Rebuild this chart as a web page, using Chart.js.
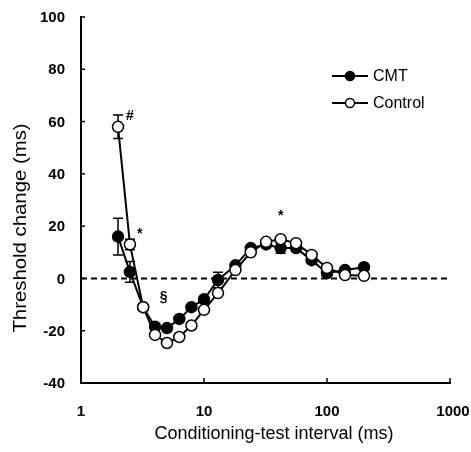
<!DOCTYPE html>
<html>
<head>
<meta charset="utf-8">
<script src="https://cdn.jsdelivr.net/npm/chart.js@4/dist/chart.umd.min.js"></script>
<style>
  html, body { margin: 0; padding: 0; background: #fff; }
  #wrap { width: 471px; height: 452px; }
</style>
</head>
<body>
<div id="wrap"><canvas id="recoveryChart" width="471" height="452"></canvas></div>
<script>
// conditioning-test intervals (ms)
const intervals = [2, 2.5, 3.2, 4, 5, 6.3, 7.9, 10, 13, 18, 24, 32, 42, 56, 75, 100, 140, 200];
const cmtValues = [16, 2.5, -11, -18.5, -19, -15.5, -11, -8, -0.6, 5, 11.6, 13, 11.6, 11.6, 7, 2, 3.2, 4.3];
const cmtErrors = [7, 4, 0, 0, 0, 0, 0, 0, 3, 0, 0, 0, 2, 0, 0, 0, 0, 0];
const controlValues = [58, 13, -11, -21.6, -24.7, -22.4, -18, -12, -5.6, 3.2, 10, 14, 15, 13.5, 9, 4, 1.3, 1];
const controlErrors = [4.5, 2, 0, 0, 0, 0, 0, 0, 0, 0, 0, 0, 0, 0, 0, 0, 0, 0];
const xTicks = [1, 10, 100, 1000];
const yTicks = [-40, -20, 0, 20, 40, 60, 80, 100];
// significance marks: [x, y, symbol]
const marks = [[2.5, 62, '#'], [3.0, 17, '*'], [42, 24, '*'], [4.7, -7, '§']];

const FONT = '"Liberation Sans", Arial, sans-serif';

function toPoints(vals) {
  return intervals.map((x, i) => ({ x: x, y: vals[i] }));
}

const extras = {
  id: 'extras',
  beforeDatasetsDraw(chart) {
    const ctx = chart.ctx;
    const xs = chart.scales.x, ys = chart.scales.y;
    const area = chart.chartArea;
    ctx.save();
    // dashed zero line
    ctx.strokeStyle = '#000';
    ctx.lineWidth = 2;
    ctx.setLineDash([6, 4]);
    ctx.beginPath();
    ctx.moveTo(area.left, ys.getPixelForValue(0));
    ctx.lineTo(area.right, ys.getPixelForValue(0));
    ctx.stroke();
    ctx.setLineDash([]);
    // error bars
    ctx.lineWidth = 1.5;
    [[cmtValues, cmtErrors], [controlValues, controlErrors]].forEach(([vals, errs]) => {
      intervals.forEach((x, i) => {
        if (!errs[i]) return;
        const px = xs.getPixelForValue(x);
        const top = ys.getPixelForValue(vals[i] + errs[i]);
        const bot = ys.getPixelForValue(vals[i] - errs[i]);
        ctx.beginPath();
        ctx.moveTo(px, top); ctx.lineTo(px, bot);
        ctx.moveTo(px - 5, top); ctx.lineTo(px + 5, top);
        ctx.moveTo(px - 5, bot); ctx.lineTo(px + 5, bot);
        ctx.stroke();
      });
    });
    ctx.restore();
  },
  afterDraw(chart) {
    const ctx = chart.ctx;
    const xs = chart.scales.x, ys = chart.scales.y;
    const area = chart.chartArea;
    ctx.save();
    ctx.strokeStyle = '#000';
    ctx.fillStyle = '#000';
    ctx.lineWidth = 1.5;
    // inward tick marks + tick labels
    ctx.font = 'bold 15px ' + FONT;
    ctx.textBaseline = 'middle';
    ctx.textAlign = 'right';
    yTicks.forEach(v => {
      const py = ys.getPixelForValue(v);
      ctx.beginPath(); ctx.moveTo(area.left, py); ctx.lineTo(area.left + 4, py); ctx.stroke();
      ctx.fillText(String(v), 65, py + 1);
    });
    ctx.textAlign = 'center';
    xTicks.forEach(v => {
      const px = xs.getPixelForValue(v);
      ctx.beginPath(); ctx.moveTo(px, area.bottom); ctx.lineTo(px, area.bottom - 5); ctx.stroke();
      ctx.fillText(String(v), px + (v === 1000 ? 3 : 0), 412);
    });
    // significance marks
    ctx.font = 'bold 14px ' + FONT;
    marks.forEach(([x, y, s]) => {
      ctx.fillText(s, xs.getPixelForValue(x), ys.getPixelForValue(y));
    });
    // axis titles
    ctx.font = '18px ' + FONT;
    ctx.fillText('Conditioning-test interval (ms)', 274, 434);
    ctx.save();
    ctx.translate(21, 228);
    ctx.rotate(-Math.PI / 2);
    ctx.scale(1.13, 1);
    ctx.fillText('Threshold change (ms)', 0, 0);
    ctx.restore();
    // legend
    const rows = [['CMT', '#000', 76], ['Control', '#fff', 103]];
    ctx.font = '16px ' + FONT;
    ctx.textAlign = 'left';
    rows.forEach(([label, fill, y]) => {
      ctx.lineWidth = 2;
      ctx.beginPath(); ctx.moveTo(332, y); ctx.lineTo(368, y); ctx.stroke();
      ctx.beginPath(); ctx.arc(350, y, 4.5, 0, Math.PI * 2);
      ctx.fillStyle = fill; ctx.fill();
      ctx.lineWidth = 1.5; ctx.stroke();
      ctx.fillStyle = '#000';
      ctx.fillText(label, 373, y + 1);
    });
    ctx.restore();
  }
};

new Chart(document.getElementById('recoveryChart').getContext('2d'), {
  type: 'line',
  data: {
    datasets: [
      {
        label: 'Control',
        data: toPoints(controlValues),
        order: 0,
        borderColor: '#000',
        borderWidth: 2,
        pointRadius: 5.5,
        pointBackgroundColor: '#fff',
        pointBorderColor: '#000',
        pointBorderWidth: 1.5,
        tension: 0
      },
      {
        label: 'CMT',
        data: toPoints(cmtValues),
        order: 1,
        borderColor: '#000',
        borderWidth: 2,
        pointRadius: 5.5,
        pointBackgroundColor: '#000',
        pointBorderColor: '#000',
        pointBorderWidth: 1.5,
        tension: 0
      }
    ]
  },
  options: {
    responsive: false,
    animation: false,
    layout: { padding: { top: 17, right: 21, left: 0, bottom: 0 } },
    plugins: { legend: { display: false }, tooltip: { enabled: false } },
    scales: {
      x: {
        type: 'logarithmic',
        min: 1,
        max: 1000,
        afterBuildTicks: s => { s.ticks = xTicks.map(v => ({ value: v })); },
        afterFit: s => { s.height = 69; },
        grid: { display: false },
        border: { display: true, color: '#000', width: 2 },
        ticks: { display: false }
      },
      y: {
        min: -40,
        max: 100,
        afterBuildTicks: s => { s.ticks = yTicks.map(v => ({ value: v })); },
        afterFit: s => { s.width = 81; },
        grid: { display: false },
        border: { display: true, color: '#000', width: 2 },
        ticks: { display: false }
      }
    }
  },
  plugins: [extras]
});
</script>
</body>
</html>
